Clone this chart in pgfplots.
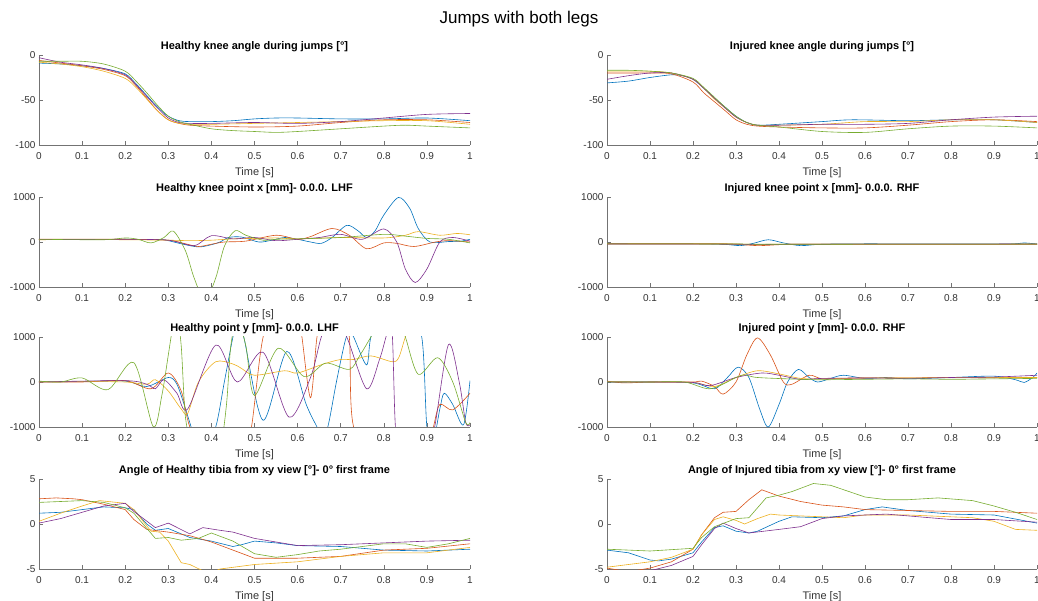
\documentclass[border=0pt]{standalone}
\usepackage{pgfplots}
\pgfplotsset{compat=1.18}
\usepackage{fontspec}
\setmainfont{Liberation Sans}
\definecolor{c1}{rgb}{0,0.447,0.741}
\definecolor{c2}{rgb}{0.85,0.325,0.098}
\definecolor{c3}{rgb}{0.929,0.694,0.125}
\definecolor{c4}{rgb}{0.494,0.184,0.556}
\definecolor{c5}{rgb}{0.466,0.674,0.188}
\pgfplotsset{
  mat/.style={
    scale only axis, width=431pt, height=90pt, anchor=south west,
    xmin=0, xmax=1, xtick={0,0.1,0.2,0.3,0.4,0.5,0.6,0.7,0.8,0.9,1},
    axis x line*=bottom, axis y line*=left,
    axis line style={-, black!55, line width=0.5pt},
    tick align=inside, major tick length=4pt,
    tick style={black!55, line width=0.5pt},
    ticklabel style={font=\fontsize{10}{12}\selectfont, text=black!80},
    /pgf/number format/assume math mode=true,
    /pgf/number format/1000 sep={},
    scaled ticks=false,
    xticklabel style={/pgf/number format/fixed, yshift=-4pt},
    title style={font=\bfseries\fontsize{11}{13}\selectfont, at={(0.5,1)}, anchor=south, yshift=-6pt},
    xlabel={Time [s]}, xlabel style={font=\fontsize{11}{13}\selectfont, text=black!80, yshift=-1pt},
    every axis plot/.append style={line width=0.6pt, no marks},
  },
  r/.style={mat, width=430pt},
}
\begin{document}
\begin{tikzpicture}
\useasboundingbox (0,0) rectangle (1038pt,600pt);
\node[font=\fontsize{17}{20}\selectfont] at (519pt,581pt) {Jumps with both legs};

% Row 1 left
\begin{axis}[mat, at={(39pt,455pt)}, ymin=-100, ymax=0, ytick={-100,-50,0},
  title={Healthy knee angle during jumps [°]}]
\addplot[c1, smooth] coordinates {(0,-9)(0.05,-10)(0.1,-12)(0.15,-15)(0.2,-21)(0.225,-32)(0.25,-45)(0.275,-58)(0.3,-68)(0.325,-73)(0.35,-74)(0.4,-74)(0.45,-73)(0.5,-71)(0.55,-70)(0.6,-70)(0.7,-71)(0.8,-71)(0.9,-70)(1,-73)};
\addplot[c2, smooth] coordinates {(0,-6)(0.05,-9)(0.1,-12)(0.15,-16)(0.2,-23)(0.225,-34)(0.25,-48)(0.275,-62)(0.3,-72)(0.325,-76)(0.35,-78)(0.4,-79)(0.5,-80)(0.6,-79)(0.7,-75)(0.8,-72)(0.9,-72)(1,-75)};
\addplot[c3, smooth] coordinates {(0,-8)(0.05,-10)(0.1,-13)(0.15,-18)(0.2,-26)(0.225,-36)(0.25,-49)(0.275,-62)(0.3,-72)(0.325,-76)(0.35,-77)(0.4,-77)(0.5,-76)(0.6,-75)(0.7,-74)(0.8,-73)(0.9,-73)(1,-77)};
\addplot[c4, smooth] coordinates {(0,-3)(0.05,-8)(0.1,-11)(0.15,-15)(0.2,-22)(0.225,-33)(0.25,-46)(0.275,-59)(0.3,-70)(0.325,-75)(0.35,-76)(0.4,-76)(0.5,-75)(0.6,-76)(0.7,-74)(0.8,-70)(0.9,-66)(1,-65)};
\addplot[c5, smooth] coordinates {(0,-7)(0.05,-7)(0.1,-7)(0.15,-10)(0.2,-18)(0.225,-29)(0.25,-42)(0.275,-56)(0.3,-68)(0.325,-74)(0.35,-77)(0.4,-82)(0.45,-84)(0.5,-85)(0.55,-86)(0.6,-85)(0.7,-82)(0.8,-79)(0.85,-78)(0.9,-79)(1,-81)};
\end{axis}

% Row 1 right
\begin{axis}[r, at={(607pt,455pt)}, ymin=-100, ymax=0, ytick={-100,-50,0},
  title={Injured knee angle during jumps [°]}]
\addplot[c1, smooth] coordinates {(0,-31)(0.05,-29)(0.1,-25)(0.15,-22)(0.175,-23)(0.2,-27)(0.225,-37)(0.25,-48)(0.275,-58)(0.3,-68)(0.325,-75)(0.35,-78)(0.4,-77)(0.5,-74)(0.57,-72)(0.7,-73)(0.8,-72)(0.9,-72)(1,-75)};
\addplot[c2, smooth] coordinates {(0,-20)(0.05,-20)(0.1,-20)(0.15,-21)(0.2,-30)(0.225,-42)(0.25,-52)(0.275,-62)(0.3,-72)(0.325,-77)(0.35,-79)(0.4,-80)(0.5,-81)(0.6,-81)(0.7,-78)(0.8,-74)(0.9,-72)(1,-74)};
\addplot[c3, smooth] coordinates {(0,-18)(0.05,-18)(0.1,-18)(0.15,-20)(0.2,-27)(0.225,-37)(0.25,-49)(0.275,-59)(0.3,-69)(0.325,-75)(0.35,-78)(0.4,-78)(0.5,-77)(0.6,-74)(0.7,-74)(0.8,-72)(0.9,-72)(1,-75)};
\addplot[c4, smooth] coordinates {(0,-27)(0.05,-23)(0.1,-20)(0.15,-20)(0.2,-27)(0.225,-37)(0.25,-48)(0.275,-59)(0.3,-69)(0.325,-75)(0.35,-78)(0.4,-78)(0.5,-77)(0.6,-77)(0.7,-76)(0.8,-72)(0.9,-69)(1,-68)};
\addplot[c5, smooth] coordinates {(0,-17)(0.05,-17)(0.1,-18)(0.15,-20)(0.2,-26)(0.225,-36)(0.25,-47)(0.275,-58)(0.3,-68)(0.325,-75)(0.35,-78)(0.4,-80)(0.5,-85)(0.6,-86)(0.7,-82)(0.8,-79)(0.9,-79)(1,-81)};
\end{axis}

% Row 2 left
\begin{axis}[mat, at={(39pt,313pt)}, ymin=-1000, ymax=1000, ytick={-1000,0,1000},
  title={Healthy knee point x [mm]- 0.0.0. LHF}]
\addplot[c1, smooth] coordinates {(0,60)(0.1,55)(0.2,60)(0.28,55)(0.3,30)(0.33,-40)(0.37,-110)(0.4,-60)(0.42,0)(0.44,100)(0.47,110)(0.51,0)(0.54,40)(0.57,100)(0.6,60)(0.63,0)(0.655,-30)(0.68,100)(0.714,370)(0.74,250)(0.76,100)(0.78,250)(0.8,600)(0.834,990)(0.86,750)(0.88,300)(0.907,0)(0.95,10)(0.98,20)(1,60)};
\addplot[c2, smooth] coordinates {(0,60)(0.1,60)(0.2,60)(0.3,40)(0.34,-40)(0.37,-100)(0.4,-50)(0.43,0)(0.48,20)(0.55,150)(0.6,60)(0.63,120)(0.68,300)(0.72,150)(0.76,-150)(0.8,-20)(0.83,-30)(0.87,-100)(0.92,0)(0.95,30)(1,0)};
\addplot[c3, smooth] coordinates {(0,50)(0.1,55)(0.2,50)(0.3,40)(0.35,30)(0.4,40)(0.45,70)(0.5,80)(0.55,90)(0.6,70)(0.7,100)(0.8,90)(0.85,150)(0.88,230)(0.93,150)(0.97,190)(1,160)};
\addplot[c4, smooth] coordinates {(0,60)(0.1,55)(0.2,60)(0.3,40)(0.36,-80)(0.4,140)(0.45,70)(0.5,100)(0.55,30)(0.6,60)(0.65,100)(0.7,170)(0.75,60)(0.8,290)(0.83,0)(0.85,-600)(0.873,-900)(0.9,-600)(0.93,0)(0.96,100)(1,20)};
\addplot[c5, smooth] coordinates {(0,60)(0.15,50)(0.2,90)(0.23,60)(0.26,-20)(0.29,100)(0.312,240)(0.34,-200)(0.36,-800)(0.385,-1300)(0.41,-800)(0.43,-100)(0.455,250)(0.48,150)(0.52,40)(0.55,60)(0.6,70)(0.7,100)(0.8,170)(0.85,130)(0.9,80)(0.95,60)(1,-20)};
\end{axis}

% Row 2 right
\begin{axis}[r, at={(607pt,313pt)}, ymin=-1000, ymax=1000, ytick={-1000,0,1000},
  title={Injured knee point x [mm]- 0.0.0. RHF}]
\addplot[c1, smooth] coordinates {(0,-40)(0.2,-40)(0.27,-50)(0.31,-80)(0.34,-30)(0.375,50)(0.41,-20)(0.45,-80)(0.5,-50)(0.6,-40)(0.9,-45)(0.95,-40)(0.97,-20)(1,-45)};
\addplot[c2, smooth] coordinates {(0,-40)(0.2,-40)(0.28,-40)(0.35,-80)(0.4,-60)(0.45,-50)(1,-50)};
\addplot[c3, smooth] coordinates {(0,-45)(0.3,-45)(0.35,-60)(0.4,-50)(1,-50)};
\addplot[c4, smooth] coordinates {(0,-45)(0.3,-50)(0.35,-60)(0.45,-50)(1,-45)};
\addplot[c5, smooth] coordinates {(0,-40)(0.3,-45)(0.4,-50)(1,-45)};
\end{axis}

% Row 3 left
\begin{axis}[mat, at={(39pt,173pt)}, ymin=-1000, ymax=1000, ytick={-1000,0,1000},
  title={Healthy point y [mm]- 0.0.0. LHF}]
\addplot[c1, smooth] coordinates {(0,0)(0.1,10)(0.2,20)(0.25,-100)(0.3,100)(0.32,-50)(0.34,-600)(0.36,-1200)(0.38,-1600)(0.41,-1000)(0.43,0)(0.45,1000)(0.46,1300)(0.475,1000)(0.52,-850)(0.575,680)(0.62,-500)(0.645,-1000)(0.655,-1200)(0.67,-1000)(0.69,0)(0.71,900)(0.72,1100)(0.73,1000)(0.76,380)(0.77,1000)(0.8,1800)(0.85,1800)(0.888,1000)(0.9,-1000)(0.915,-1300)(0.93,-600)(0.94,-250)(0.96,-500)(0.985,-950)(1,30)};
\addplot[c2, smooth] coordinates {(0,0)(0.1,0)(0.2,30)(0.26,-150)(0.3,200)(0.33,-200)(0.35,-1000)(0.4,-2000)(0.47,-1800)(0.493,-1000)(0.52,1000)(0.56,1800)(0.6,1500)(0.61,1000)(0.63,-350)(0.645,1000)(0.66,1500)(0.7,1800)(0.72,1000)(0.73,-1000)(0.8,-2000)(0.9,-1500)(0.915,-1000)(0.93,-500)(0.96,-620)(1,-250)};
\addplot[c3, smooth] coordinates {(0,0)(0.1,10)(0.2,0)(0.25,-50)(0.27,50)(0.3,-200)(0.33,-600)(0.345,-700)(0.37,0)(0.41,450)(0.45,400)(0.47,300)(0.5,150)(0.57,250)(0.6,200)(0.66,400)(0.7,500)(0.73,500)(0.77,580)(0.82,450)(0.835,550)(0.85,1000)(0.87,1500)(0.9,2000)(1,2500)};
\addplot[c4, smooth] coordinates {(0,0)(0.2,30)(0.25,-50)(0.27,-150)(0.29,50)(0.32,-250)(0.345,-600)(0.41,820)(0.46,0)(0.52,660)(0.58,-780)(0.63,100)(0.655,1000)(0.68,1500)(0.714,1000)(0.76,-150)(0.79,500)(0.805,1000)(0.812,1200)(0.82,1000)(0.827,-1000)(0.84,-1500)(0.9,-1500)(0.918,-1000)(0.95,830)(0.975,0)(0.99,-900)(1,-950)};
\addplot[c5, smooth] coordinates {(0,20)(0.05,0)(0.1,90)(0.16,-170)(0.22,430)(0.265,-990)(0.285,-300)(0.3,600)(0.31,1200)(0.32,1500)(0.33,800)(0.34,-800)(0.36,-1600)(0.39,-2000)(0.42,-1500)(0.435,-500)(0.445,800)(0.46,1400)(0.48,800)(0.5,-300)(0.555,750)(0.615,120)(0.665,420)(0.72,280)(0.745,600)(0.77,1000)(0.8,1500)(0.83,1500)(0.85,1000)(0.88,170)(0.925,540)(0.96,0)(0.99,-900)(1,-900)};
\end{axis}

% Row 3 right
\begin{axis}[r, at={(607pt,173pt)}, ymin=-1000, ymax=1000, ytick={-1000,0,1000},
  title={Injured point y [mm]- 0.0.0. RHF}]
\addplot[c1, smooth] coordinates {(0,0)(0.1,0)(0.2,-20)(0.25,-150)(0.28,100)(0.305,330)(0.33,100)(0.355,-600)(0.375,-1000)(0.4,-500)(0.42,0)(0.445,280)(0.47,100)(0.49,0)(0.52,80)(0.55,150)(0.6,80)(0.65,100)(0.7,70)(0.8,100)(0.9,130)(0.95,50)(0.97,-10)(0.99,100)(1,200)};
\addplot[c2, smooth] coordinates {(0,20)(0.04,-20)(0.1,0)(0.2,0)(0.22,20)(0.25,-100)(0.27,-270)(0.3,0)(0.325,600)(0.35,980)(0.38,600)(0.41,0)(0.43,-50)(0.47,150)(0.5,70)(0.55,80)(0.6,90)(0.7,90)(0.8,100)(0.9,90)(1,100)};
\addplot[c3, smooth] coordinates {(0,10)(0.1,0)(0.2,-10)(0.25,-100)(0.3,100)(0.35,250)(0.4,180)(0.45,80)(0.5,70)(0.6,90)(0.7,90)(0.8,100)(0.9,100)(1,100)};
\addplot[c4, smooth] coordinates {(0,0)(0.1,0)(0.2,-10)(0.24,-80)(0.3,100)(0.36,200)(0.4,150)(0.45,60)(0.5,80)(0.6,90)(0.7,80)(0.8,100)(0.9,110)(1,150)};
\addplot[c5, smooth] coordinates {(0,0)(0.1,0)(0.18,0)(0.24,-150)(0.3,100)(0.32,160)(0.35,100)(0.45,60)(0.5,50)(0.6,60)(0.7,70)(0.8,60)(0.9,70)(1,80)};
\end{axis}

% Row 4 left
\begin{axis}[mat, at={(39pt,31pt)}, ymin=-5, ymax=5, ytick={-5,0,5},
  title={Angle of Healthy tibia from xy view [°]- 0° first frame}]
\addplot[c1] coordinates {(0,1.2)(0.05,1.3)(0.1,1.6)(0.15,1.9)(0.2,1.8)(0.22,1.6)(0.25,0)(0.27,-0.7)(0.3,-0.5)(0.33,-1.1)(0.35,-1.5)(0.4,-1.9)(0.45,-2.5)(0.47,-2.3)(0.5,-1.9)(0.55,-2.1)(0.6,-2.4)(0.7,-2.5)(0.8,-2.9)(0.9,-3.0)(1,-2.8)};
\addplot[c2] coordinates {(0,2.8)(0.04,2.9)(0.08,2.8)(0.1,2.7)(0.15,2.2)(0.2,1.6)(0.22,0.5)(0.25,-0.6)(0.3,-0.9)(0.35,-1.3)(0.4,-2.0)(0.45,-2.9)(0.5,-3.8)(0.6,-3.8)(0.7,-3.6)(0.8,-2.9)(0.9,-2.7)(1,-2.2)};
\addplot[c3] coordinates {(0,0.3)(0.05,1.2)(0.1,2.0)(0.14,2.6)(0.2,2.3)(0.22,1.6)(0.26,-0.8)(0.28,-0.9)(0.3,-1.9)(0.33,-4.3)(0.35,-4.5)(0.38,-5.2)(0.4,-5.4)(0.42,-5)(0.5,-4.5)(0.6,-4.2)(0.7,-3.6)(0.8,-3.2)(0.9,-3.2)(1,-2.6)};
\addplot[c4] coordinates {(0,0.1)(0.05,0.6)(0.1,1.3)(0.15,2.0)(0.2,2.3)(0.22,1.4)(0.27,-0.4)(0.3,0.1)(0.35,-1.1)(0.38,-0.4)(0.42,-0.7)(0.45,-0.9)(0.5,-1.6)(0.55,-2.0)(0.6,-2.4)(0.7,-2.3)(0.8,-2.1)(0.9,-1.9)(1,-1.8)};
\addplot[c5] coordinates {(0,2.4)(0.05,2.5)(0.1,2.6)(0.15,2.4)(0.2,1.8)(0.22,1.2)(0.27,-1.6)(0.3,-1.5)(0.33,-1.8)(0.37,-1.6)(0.4,-1.0)(0.45,-1.9)(0.5,-3.3)(0.55,-3.7)(0.6,-3.4)(0.65,-3.0)(0.7,-2.8)(0.8,-2.2)(0.85,-2.2)(0.9,-2.6)(0.95,-2.2)(1,-1.6)};
\end{axis}

% Row 4 right
\begin{axis}[r, at={(607pt,31pt)}, ymin=-5, ymax=5, ytick={-5,0,5},
  title={Angle of Injured tibia from xy view [°]- 0° first frame}]
\addplot[c1] coordinates {(0,-2.9)(0.05,-3.2)(0.1,-4.0)(0.12,-4.1)(0.15,-3.9)(0.2,-3.2)(0.22,-2.0)(0.25,-0.4)(0.27,-0.2)(0.3,-0.8)(0.33,-1.0)(0.35,-0.8)(0.4,0.3)(0.43,0.8)(0.5,0.7)(0.55,0.9)(0.6,1.6)(0.64,1.9)(0.7,1.5)(0.8,1.1)(0.9,1.0)(1,0.1)};
\addplot[c2] coordinates {(0,-4.9)(0.05,-5.3)(0.1,-4.9)(0.15,-4.2)(0.2,-2.8)(0.22,-1.2)(0.25,0.7)(0.27,1.3)(0.3,1.4)(0.33,2.7)(0.36,3.8)(0.4,3.1)(0.45,2.5)(0.5,2.1)(0.55,1.9)(0.6,1.6)(0.7,1.5)(0.8,1.4)(0.9,1.4)(1,1.2)};
\addplot[c3] coordinates {(0,-4.8)(0.05,-4.5)(0.1,-4.2)(0.15,-3.7)(0.2,-2.8)(0.22,-1.2)(0.25,0.5)(0.27,0.8)(0.3,0.4)(0.32,0)(0.35,0.6)(0.38,1.1)(0.4,1.0)(0.45,0.9)(0.5,0.8)(0.55,0.7)(0.6,1.0)(0.7,1.0)(0.8,0.8)(0.85,0.7)(0.9,0.3)(0.95,-0.6)(1,-0.7)};
\addplot[c4] coordinates {(0,-5.8)(0.05,-5.6)(0.1,-5.2)(0.15,-4.6)(0.2,-3.6)(0.22,-2.3)(0.25,-0.5)(0.27,0.1)(0.3,-0.5)(0.33,-1.0)(0.4,-0.6)(0.45,-0.3)(0.5,0.6)(0.55,0.9)(0.6,1.0)(0.65,1.1)(0.7,0.9)(0.8,0.5)(0.9,0.5)(1,0.2)};
\addplot[c5] coordinates {(0,-2.8)(0.05,-2.9)(0.1,-3.0)(0.2,-2.7)(0.22,-1.5)(0.25,-0.3)(0.3,0.6)(0.33,0.7)(0.37,2.9)(0.4,3.2)(0.43,3.6)(0.48,4.5)(0.52,4.3)(0.6,3.0)(0.65,2.7)(0.7,2.7)(0.77,2.9)(0.85,2.6)(0.9,2.0)(0.95,1.3)(1,0.5)};
\end{axis}
\end{tikzpicture}
\end{document}
